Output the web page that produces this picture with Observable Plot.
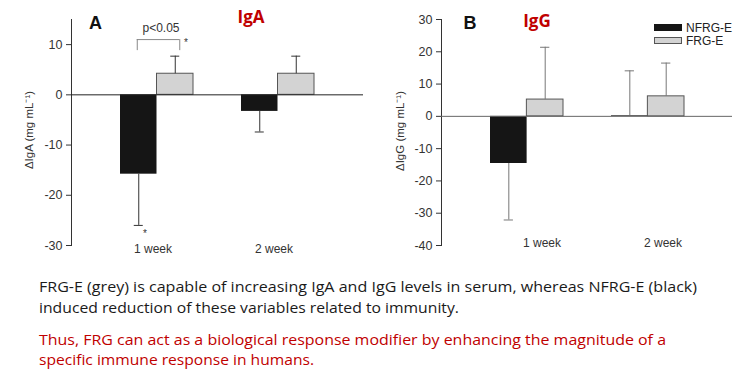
<!DOCTYPE html>
<html><head><meta charset="utf-8">
<script src="https://cdn.jsdelivr.net/npm/d3@7"></script>
<script src="https://cdn.jsdelivr.net/npm/@observablehq/plot@0.6"></script>
<style>
body{margin:0;background:#fff;}
#wrap{position:relative;width:751px;height:370px;overflow:hidden;font-family:"Liberation Sans",Arial,sans-serif;}
.abs{position:absolute;white-space:nowrap;line-height:1;}
#wrap svg g[aria-label*="y-axis"] text{font-size:12.5px !important;fill:#333;}
</style></head><body><div id="wrap"></div>
<script>
// ---------- data ----------
const weeks = ["1 week", "2 week"];
const series = ["NFRG-E", "FRG-E"];
// order: [1 week NFRG-E, 1 week FRG-E, 2 week NFRG-E, 2 week FRG-E]
const igaValues = [-15.8, 4.2, -3.3, 4.2];
const igaErrEnds = [-26.0, 7.7, -7.4, 7.7];
const iggValues = [-14.6, 5.2, 0.2, 6.2];
const iggErrEnds = [-32.1, 21.4, 14.1, 16.5];
const igaTicks = [-30, -20, -10, 0, 10];
const iggTicks = [-40, -30, -20, -10, 0, 10, 20, 30];
const igaDomain = [-30, 15];
const iggDomain = [-40, 30];
const igaSig = [{week: "1 week", low: 8.8, high: 11.0, label: "p<0.05", labelY: 13.3}];
const igaStarsTop = [{week: "1 week", y: 10.3}];
const igaStarsBottom = [{week: "1 week", y: -27.7}];
const panelTitles = ["A", "B"];
const panelNames = ["IgA", "IgG"];
const yLabels = ["ΔIgA (mg mL⁻¹)", "ΔIgG (mg mL⁻¹)"];
const noteBlack = ["FRG-E (grey) is capable of increasing IgA and IgG levels in serum, whereas NFRG-E (black)",
                   "induced reduction of these variables related to immunity."];
const noteRed = ["Thus, FRG can act as a biological response modifier by enhancing the magnitude of a",
                 "specific immune response in humans."];

function rows(values, errs) {
  const out = [];
  weeks.forEach((w, wi) => series.forEach((s, si) => {
    out.push({week: w, series: s, value: values[wi * 2 + si], err: errs[wi * 2 + si]});
  }));
  return out;
}

const colors = {"NFRG-E": "#151515", "FRG-E": "#d3d3d3"};

function panel({width, ml, mr, yDomain, ticks, data, errColor, zeroColor, labelDx, labelDy, extra}) {
  const height = 258, mt = 19, mb = 13;
  const xs = Plot.scale({x: {type: "band", domain: weeks, range: [ml, width - mr], padding: 0.4}});
  const bw = xs.bandwidth;
  const q = bw / 4, cap = 4.5;
  const N = data.filter(d => d.series === series[0]);
  const F = data.filter(d => d.series === series[1]);
  return Plot.plot({
    width, height, marginLeft: ml, marginRight: mr, marginTop: mt, marginBottom: mb,
    style: {fontFamily: "Liberation Sans, Arial, sans-serif", fontSize: "12px", color: "#333", background: "transparent", overflow: "visible"},
    x: {type: "band", domain: weeks, padding: 0.4, axis: null},
    y: {domain: yDomain, ticks, tickFormat: d => String(d), tickSize: 5, tickPadding: 4, line: true, label: null},
    marks: [
      Plot.barY(N, {x: "week", y: "value", fill: colors["NFRG-E"], insetRight: bw / 2}),
      Plot.barY(F, {x: "week", y: "value", fill: colors["FRG-E"], stroke: "#555", strokeWidth: 1, insetLeft: bw / 2}),
      Plot.ruleX(N, {x: "week", y1: "value", y2: "err", dx: -q, stroke: errColor}),
      Plot.ruleX(F, {x: "week", y1: "value", y2: "err", dx: q, stroke: errColor}),
      Plot.tickY(N, {x: "week", y: "err", insetLeft: q - cap, insetRight: 3 * q - cap, stroke: errColor}),
      Plot.tickY(F, {x: "week", y: "err", insetLeft: 3 * q - cap, insetRight: q - cap, stroke: errColor}),
      Plot.ruleY([0], {stroke: zeroColor}),
      Plot.text(weeks, {x: d => d, frameAnchor: "bottom", lineAnchor: "middle", dx: labelDx, dy: labelDy, fill: "#333", fontSize: 12}),
      ...(extra ? extra(q) : [])
    ]
  });
}

const wrap = document.getElementById("wrap");

const plotA = panel({
  width: 380, ml: 71, mr: 17, yDomain: igaDomain, ticks: igaTicks,
  data: rows(igaValues, igaErrEnds), errColor: "#333", zeroColor: "#222",
  labelDx: -4, labelDy: 4,
  extra: (q) => [
    Plot.ruleY(igaSig, {y: "high", x1: "week", x2: "week", insetLeft: q - 1.5, insetRight: q - 4.5, stroke: "#888"}),
    Plot.ruleX(igaSig, {x: "week", y1: "low", y2: "high", dx: -q - 1.5, stroke: "#888"}),
    Plot.ruleX(igaSig, {x: "week", y1: "low", y2: "high", dx: q + 4.5, stroke: "#888"}),
    Plot.text(igaSig, {x: "week", y: "labelY", text: "label", dx: 4, fill: "#333", fontSize: 12}),
    Plot.text(igaStarsTop, {x: "week", y: "y", text: () => "*", dx: 29, fill: "#333", fontSize: 10}),
    Plot.text(igaStarsBottom, {x: "week", y: "y", text: () => "*", dx: -12, fill: "#333", fontSize: 10})
  ]
});
plotA.style.position = "absolute"; plotA.style.left = "0px"; plotA.style.top = "0px";
wrap.appendChild(plotA);

const plotB = panel({
  width: 371, ml: 61, mr: 19, yDomain: iggDomain, ticks: iggTicks,
  data: rows(iggValues, iggErrEnds), errColor: "#777", zeroColor: "#666",
  labelDx: 15, labelDy: -2
});
plotB.style.position = "absolute"; plotB.style.left = "380px"; plotB.style.top = "0px";
wrap.appendChild(plotB);

function addText(txt, css) {
  const d = document.createElement("div");
  d.className = "abs";
  d.textContent = txt;
  Object.assign(d.style, css);
  wrap.appendChild(d);
  return d;
}
// panel letters and names
addText(panelTitles[0], {left: "95.5px", top: "23px", transform: "translate(-50%,-50%)", fontWeight: "bold", fontSize: "18px", color: "#111"});
addText(panelTitles[1], {left: "470px", top: "23px", transform: "translate(-50%,-50%)", fontWeight: "bold", fontSize: "18px", color: "#111"});
addText(panelNames[0], {left: "251px", top: "16px", transform: "translate(-50%,-50%)", fontWeight: "bold", fontSize: "17px", color: "#c00000", fontFamily: "'Open Sans', sans-serif"});
addText(panelNames[1], {left: "537px", top: "20px", transform: "translate(-50%,-50%)", fontWeight: "bold", fontSize: "17px", color: "#c00000", fontFamily: "'Open Sans', sans-serif"});
// y labels
addText(yLabels[0], {left: "30px", top: "130px", transform: "translate(-50%,-50%) rotate(-90deg)", fontSize: "11.5px", color: "#333"});
addText(yLabels[1], {left: "401px", top: "131px", transform: "translate(-50%,-50%) rotate(-90deg)", fontSize: "11.5px", color: "#333"});
// legend
series.forEach((s, i) => {
  const sw = document.createElement("div");
  sw.className = "abs";
  Object.assign(sw.style, {left: "654px", top: (24 + i * 13) + "px", width: "28px", height: "7px", background: colors[s], boxSizing: "border-box", border: i ? "1px solid #555" : "none"});
  wrap.appendChild(sw);
  addText(s, {left: "686px", top: (27.5 + i * 13) + "px", transform: "translateY(-50%)", fontSize: "12px", color: "#222"});
});

// notes below the chart
const ns = "http://www.w3.org/2000/svg";
const svg = document.createElementNS(ns, "svg");
svg.setAttribute("width", 751); svg.setAttribute("height", 370);
Object.assign(svg.style, {position: "absolute", left: "0px", top: "0px", pointerEvents: "none"});
const lines = [
  {t: noteBlack[0], y: 292, w: 658, c: "#1a1a1a"},
  {t: noteBlack[1], y: 313, w: 420, c: "#1a1a1a"},
  {t: noteRed[0], y: 345, w: 627, c: "#c00000"},
  {t: noteRed[1], y: 365, w: 275, c: "#c00000"}
];
lines.forEach(l => {
  const t = document.createElementNS(ns, "text");
  t.setAttribute("x", 39); t.setAttribute("y", l.y);
  t.setAttribute("textLength", l.w); t.setAttribute("lengthAdjust", "spacingAndGlyphs");
  t.setAttribute("fill", l.c);
  t.setAttribute("font-family", "'Open Sans', sans-serif");
  t.setAttribute("font-size", 15);
  t.textContent = l.t;
  svg.appendChild(t);
});
wrap.appendChild(svg);
</script>
</body></html>
